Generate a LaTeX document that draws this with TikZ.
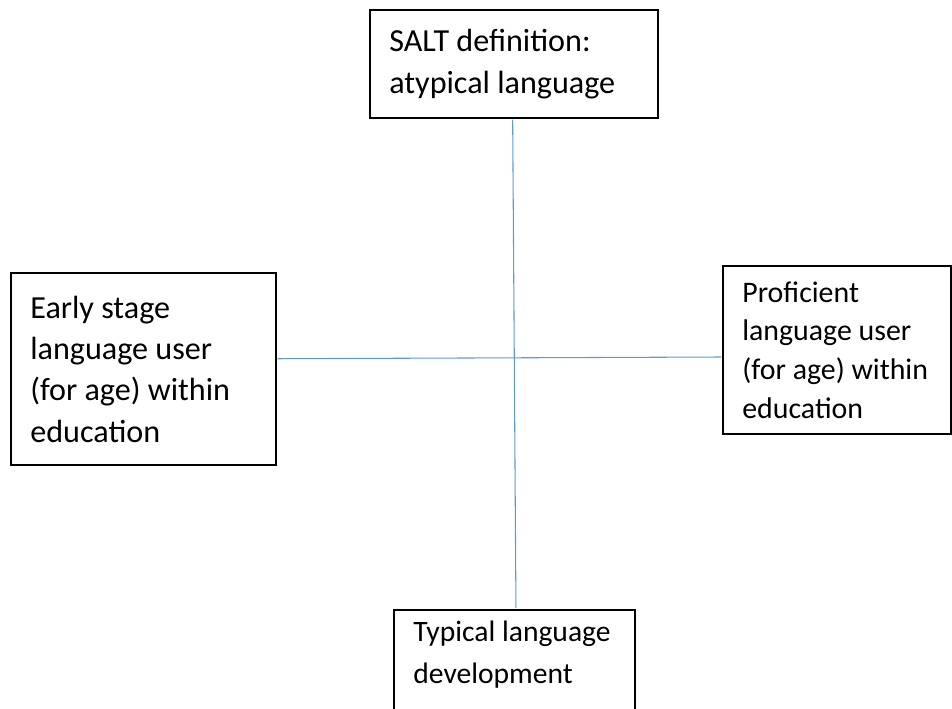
\documentclass[tikz,border=0pt]{standalone}
\usepackage{fontspec}
\setmainfont{Carlito}
\definecolor{lineblue}{RGB}{91,155,213}
\tikzset{
  box/.style={draw, line width=1.2pt, align=left, inner xsep=14.5pt,
    execute at begin node={\spaceskip=0pt\xspaceskip=0pt}},
  link/.style={draw=lineblue, line width=0.8pt, shorten <=0.6pt, shorten >=0.6pt}
}

\begin{document}
\begin{tikzpicture}[x=0.75pt, y=-0.75pt]
\useasboundingbox (0,0) rectangle (952,709);
\begin{scope}[every node/.style={box}]
  \node[minimum height=81pt, text width=187pt, font=\fontsize{24.1}{31.5}\selectfont] (salt) at (514,64) {SALT definition:\\atypical language};
  \node[minimum height=144pt, text width=169.75pt, font=\fontsize{24.1}{31}\selectfont] (early) at (143.5,369) {Early stage\\language user\\(for age) within\\education};
  \node[minimum height=126pt, text width=142pt, font=\fontsize{22.4}{29}\selectfont] (proficient) at (837,350) {Proficient\\language user\\(for age) within\\education};
  \node[anchor=north, inner ysep=8.5pt, text depth=60pt, text width=151.75pt, font=\fontsize{22.2}{31.5}\selectfont] (typical) at (514.5,609) {Typical language\\development};
\end{scope}
\draw[link] ([xshift=-1pt]salt.south) -- ([xshift=1.1pt]typical.north);
\draw[link] ([yshift=7.7pt]early.east) -- ([yshift=-5.25pt]proficient.west);
\end{tikzpicture}
\end{document}
